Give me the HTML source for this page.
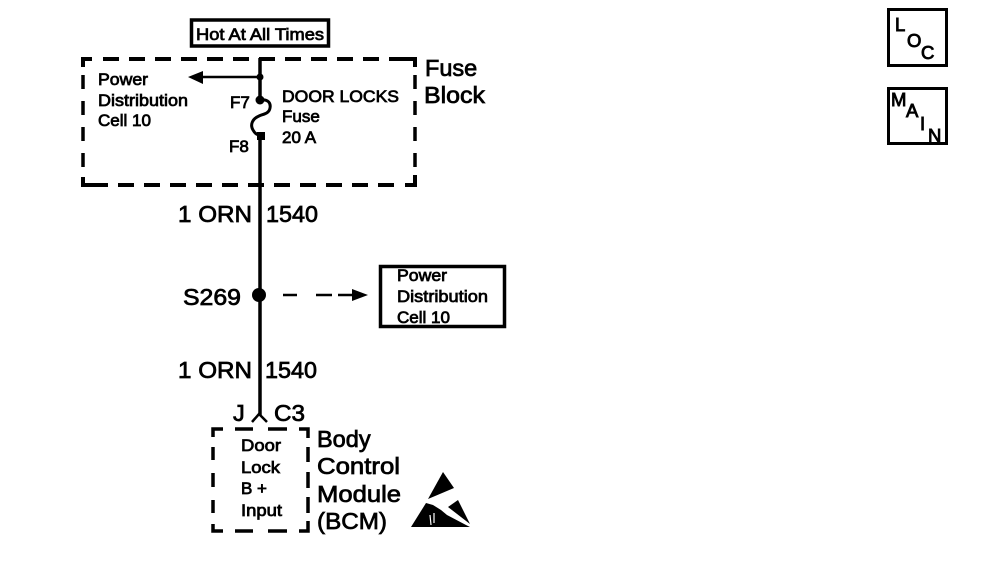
<!DOCTYPE html>
<html>
<head>
<meta charset="utf-8">
<style>
html,body{margin:0;padding:0;background:#fff;width:992px;height:562px;overflow:hidden}
svg{display:block}
text{font-family:"Liberation Sans",sans-serif;fill:#000;stroke:#000;stroke-width:.75px}
.s{font-size:17px}
.m{font-size:23.500px}
.l{font-size:18.500px;stroke-width:.9px}
</style>
</head>
<body>
<svg width="992" height="562" viewBox="0 0 992 562" xmlns="http://www.w3.org/2000/svg">
<rect x="191.500" y="20" width="137" height="26" fill="none" stroke="#000" stroke-width="3.500"/>
<text x="196" y="40" class="s" textLength="128" lengthAdjust="spacingAndGlyphs">Hot At All Times</text>

<!-- Fuse block dashed outline -->
<path d="M103 59H415M92 185H403" fill="none" stroke="#000" stroke-width="4" stroke-dasharray="16 10"/>
<path d="M83 75V170M415 75V170" fill="none" stroke="#000" stroke-width="3.500" stroke-dasharray="14 12"/>
<path d="M83 67V59H92M405 59H415V67M83 177V185H92" fill="none" stroke="#000" stroke-width="4"/>
<path d="M405 185H415V175" fill="none" stroke="#000" stroke-width="4"/>

<text x="425" y="76" class="m">Fuse</text>
<text x="424" y="103" class="m" textLength="61" lengthAdjust="spacingAndGlyphs">Block</text>

<text x="98" y="85" class="s" textLength="50" lengthAdjust="spacingAndGlyphs">Power</text>
<text x="98" y="106" class="s" textLength="90" lengthAdjust="spacingAndGlyphs">Distribution</text>
<text x="98" y="126" class="s" textLength="53" lengthAdjust="spacingAndGlyphs">Cell 10</text>

<text x="282" y="102" class="s" textLength="117" lengthAdjust="spacingAndGlyphs">DOOR LOCKS</text>
<text x="282" y="122" class="s">Fuse</text>
<text x="282" y="143" class="s">20 A</text>

<text x="230" y="108" class="s">F7</text>
<text x="229" y="152" class="s">F8</text>

<path d="M260 58V100" stroke="#000" stroke-width="3.500" fill="none"/>
<path d="M260 77H200" stroke="#000" stroke-width="2.500" fill="none"/>
<path d="M188 77L203 71V84Z" fill="#000"/>
<circle cx="260" cy="77" r="3.500" fill="#000"/>
<circle cx="260" cy="100" r="4.500" fill="#000"/>
<path d="M261 100C268 99 271 103 270 108C269 114 263 114 259 116C252 119 250 125 253 130C255 134 258 135 261 136" fill="none" stroke="#000" stroke-width="3"/>
<rect x="257" y="132" width="8" height="8" fill="#000"/>
<path d="M260 136V415" stroke="#000" stroke-width="3.500" fill="none"/>
<path d="M252 422L259 414L267 422" fill="none" stroke="#000" stroke-width="2.500"/>

<text x="178" y="222" class="m" textLength="74" lengthAdjust="spacingAndGlyphs">1 ORN</text>
<text x="266" y="222" class="m" textLength="52" lengthAdjust="spacingAndGlyphs">1540</text>
<text x="183" y="305" class="m" textLength="58" lengthAdjust="spacingAndGlyphs">S269</text>
<text x="178" y="378" class="m" textLength="74" lengthAdjust="spacingAndGlyphs">1 ORN</text>
<text x="265" y="378" class="m" textLength="52" lengthAdjust="spacingAndGlyphs">1540</text>

<circle cx="259" cy="295" r="7" fill="#000"/>
<path d="M283 295H297M316 295H332M338 295H355" stroke="#000" stroke-width="2.500" fill="none"/>
<path d="M368 295L352 289V301Z" fill="#000"/>

<rect x="380.500" y="266.500" width="124" height="60" fill="none" stroke="#000" stroke-width="3.500"/>
<text x="397" y="281" class="s" textLength="50" lengthAdjust="spacingAndGlyphs">Power</text>
<text x="397" y="302" class="s" textLength="91" lengthAdjust="spacingAndGlyphs">Distribution</text>
<text x="397" y="323" class="s" textLength="53" lengthAdjust="spacingAndGlyphs">Cell 10</text>

<text x="233" y="421" class="m">J</text>
<text x="274" y="421" class="m" textLength="31" lengthAdjust="spacingAndGlyphs">C3</text>

<path d="M223 429H213V437M235 429H253M268 429H287M299 429H308V438M308 447V462M308 472V488M308 497V513M308 521V531H299M287 531H268M253 531H235M223 531H213V524M213 513V500M213 487V473M213 460V447" fill="none" stroke="#000" stroke-width="3.500"/>

<text x="241" y="451" class="s" textLength="40" lengthAdjust="spacingAndGlyphs">Door</text>
<text x="241" y="473" class="s" textLength="39" lengthAdjust="spacingAndGlyphs">Lock</text>
<text x="241" y="494" class="s">B +</text>
<text x="241" y="516" class="s" textLength="41" lengthAdjust="spacingAndGlyphs">Input</text>

<text x="317" y="447" class="m">Body</text>
<text x="317" y="474" class="m" textLength="83" lengthAdjust="spacingAndGlyphs">Control</text>
<text x="317" y="502" class="m" textLength="84" lengthAdjust="spacingAndGlyphs">Module</text>
<text x="317" y="529" class="m" textLength="70" lengthAdjust="spacingAndGlyphs">(BCM)</text>

<path d="M443 472L454 488L428 499Z" fill="#000"/>
<path d="M411 527L426 503L433 505L441 510L447 515L466 525L470 527Z" fill="#000"/>
<path d="M448 507L458 500L470 524Z" fill="#000"/>
<path d="M430 515L431 525M434 513L434 523" stroke="#fff" stroke-width="1.200" fill="none"/>

<rect x="888.500" y="9.500" width="58" height="56" fill="none" stroke="#000" stroke-width="3"/>
<text x="895" y="31" class="l">L</text>
<text x="907" y="47" class="l">O</text>
<text x="921" y="59" class="l">C</text>

<rect x="888.500" y="88.500" width="58" height="55" fill="none" stroke="#000" stroke-width="3"/>
<text x="891" y="106" class="l">M</text>
<text x="906" y="117" class="l">A</text>
<text x="920" y="130" class="l">I</text>
<text x="928" y="142" class="l">N</text>
</svg>
</body>
</html>
